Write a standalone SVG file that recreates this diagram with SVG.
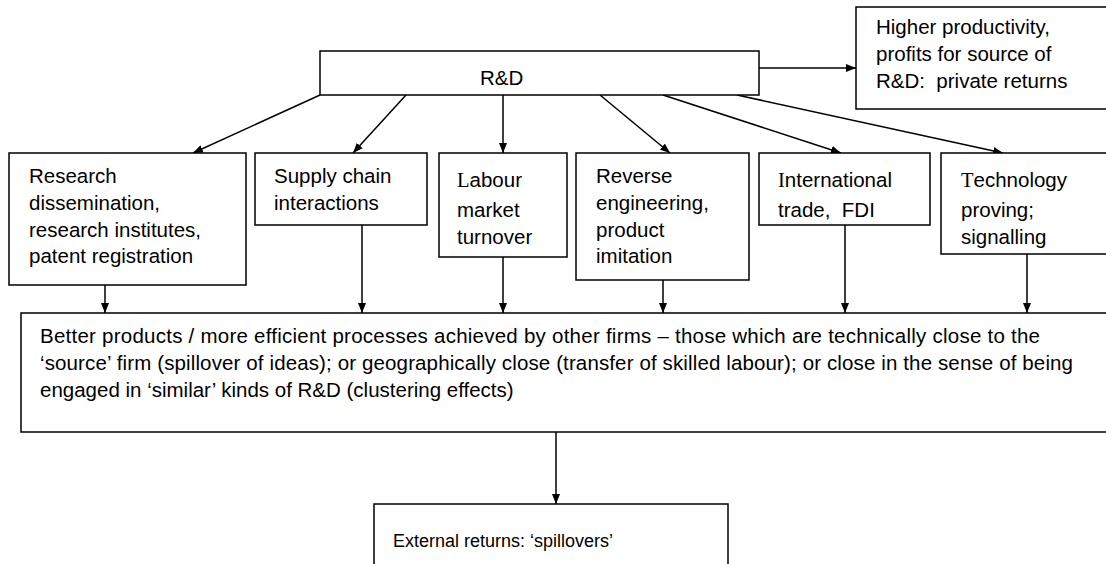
<svg xmlns="http://www.w3.org/2000/svg" width="1106" height="564" viewBox="0 0 1106 564">
  <defs>
    <marker id="arrow" viewBox="0 0 10 8" refX="10" refY="4" markerWidth="10" markerHeight="8" markerUnits="userSpaceOnUse" orient="auto">
      <path d="M0,0 L10,4 L0,8 Z" fill="#000"/>
    </marker>
    <style>
      .box { fill: #fff; stroke: #000; stroke-width: 1.5; }
      .txt { font-family: "Liberation Sans", Arial, sans-serif; font-size: 20.5px; fill: #000; white-space: pre; }
      .small { font-size: 18px; }
      .serif { font-family: "Liberation Serif", "Times New Roman", serif; }
      .conn { stroke: #000; stroke-width: 1.5; fill: none; marker-end: url(#arrow); }
    </style>
  </defs>
  <rect width="1106" height="564" fill="#fff"/>

  <!-- connectors -->
  <g id="connectors">
    <line class="conn" x1="759" y1="68" x2="856" y2="68"/>
    <line class="conn" x1="320" y1="95" x2="193" y2="153"/>
    <line class="conn" x1="406" y1="95" x2="353" y2="153"/>
    <line class="conn" x1="503" y1="95" x2="503" y2="153"/>
    <line class="conn" x1="600" y1="95" x2="670" y2="153"/>
    <line class="conn" x1="663" y1="95" x2="841" y2="153"/>
    <line class="conn" x1="737" y1="95" x2="1003" y2="153"/>
    <line class="conn" x1="105" y1="285" x2="105" y2="313"/>
    <line class="conn" x1="362" y1="225" x2="362" y2="313"/>
    <line class="conn" x1="503" y1="253" x2="503" y2="313"/>
    <line class="conn" x1="663" y1="270" x2="663" y2="313"/>
    <line class="conn" x1="845" y1="225" x2="845" y2="313"/>
    <line class="conn" x1="1027" y1="254" x2="1027" y2="313"/>
    <line class="conn" x1="556" y1="432" x2="556" y2="504"/>
  </g>

  <g id="rd">
    <rect class="box" x="320" y="51" width="439" height="44"/>
    <text class="txt" x="480" y="85">R&amp;D</text>
  </g>

  <g id="private-returns">
    <rect class="box" x="856" y="7" width="260" height="102"/>
    <text class="txt" x="876" y="34">Higher productivity,</text>
    <text class="txt" x="876" y="61">profits for source of</text>
    <text class="txt" x="876" y="88" xml:space="preserve">R&amp;D:  private returns</text>
  </g>

  <g id="research-dissemination">
    <rect class="box" x="9" y="153" width="237" height="132"/>
    <text class="txt" x="29" y="183">Research</text>
    <text class="txt" x="29" y="210">dissemination,</text>
    <text class="txt" x="29" y="237">research institutes,</text>
    <text class="txt" x="29" y="263">patent registration</text>
  </g>

  <g id="supply-chain">
    <rect class="box" x="255" y="153" width="172" height="72"/>
    <text class="txt" x="274" y="183">Supply chain</text>
    <text class="txt" x="274" y="210">interactions</text>
  </g>

  <g id="labour-market">
    <rect class="box" x="439" y="153" width="128" height="104"/>
    <text class="txt" x="457" y="187"><tspan class="serif">L</tspan>abour</text>
    <text class="txt" x="457" y="217">market</text>
    <text class="txt" x="457" y="244">turnover</text>
  </g>

  <g id="reverse-engineering">
    <rect class="box" x="576" y="153" width="173" height="127"/>
    <text class="txt" x="596" y="183">Reverse</text>
    <text class="txt" x="596" y="210">engineering,</text>
    <text class="txt" x="596" y="237">product</text>
    <text class="txt" x="596" y="263">imitation</text>
  </g>

  <g id="international-trade">
    <rect class="box" x="759" y="153" width="171" height="72"/>
    <text class="txt" x="778" y="187"><tspan class="serif">I</tspan>nternational</text>
    <text class="txt" x="778" y="217" xml:space="preserve">trade,  FDI</text>
  </g>

  <g id="technology-proving">
    <rect class="box" x="941" y="153" width="175" height="101"/>
    <text class="txt" x="961" y="187"><tspan class="serif">T</tspan>echnology</text>
    <text class="txt" x="961" y="217">proving;</text>
    <text class="txt" x="961" y="244">signalling</text>
  </g>

  <g id="better-products">
    <rect class="box" x="21" y="313" width="1095" height="119"/>
    <text class="txt" x="40" y="343" textLength="1000" lengthAdjust="spacing">Better products / more efficient processes achieved by other firms – those which are technically close to the</text>
    <text class="txt" x="40" y="370" textLength="1033" lengthAdjust="spacing">‘source’ firm (spillover of ideas); or geographically close (transfer of skilled labour); or close in the sense of being</text>
    <text class="txt" x="40" y="397">engaged in ‘similar’ kinds of R&amp;D (clustering effects)</text>
  </g>

  <g id="external-returns">
    <rect class="box" x="374" y="504" width="354" height="64"/>
    <text class="txt small" x="393" y="547">External returns: ‘spillovers’</text>
  </g>
</svg>
